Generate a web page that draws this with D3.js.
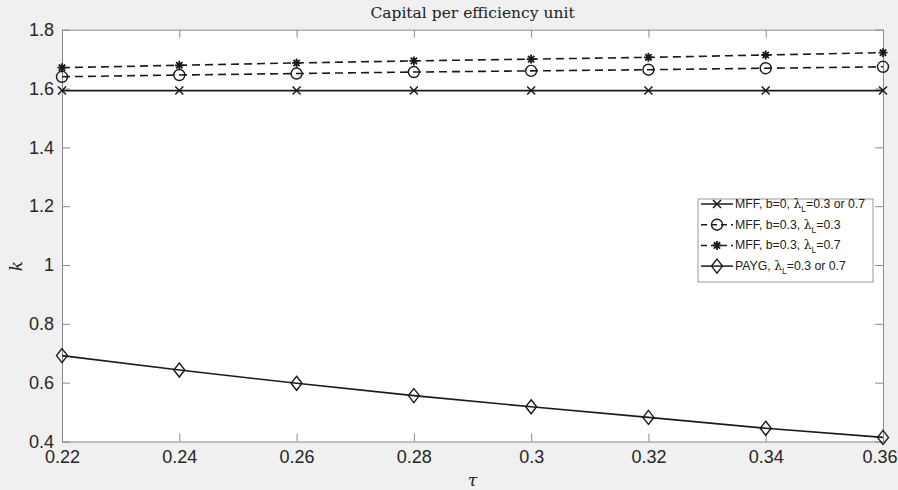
<!DOCTYPE html>
<html><head><meta charset="utf-8">
<script src="https://cdn.jsdelivr.net/npm/d3@7"></script>
<style>body{margin:0;background:#f0f0f0;}svg{display:block;}</style>
</head><body>
<svg id="c" width="898" height="490"></svg>
<script>
const tau = [0.22, 0.24, 0.26, 0.28, 0.30, 0.32, 0.34, 0.36];
const mffB0 = [1.593, 1.593, 1.593, 1.593, 1.593, 1.593, 1.593, 1.593];
const mffL03 = [1.640, 1.646, 1.651, 1.656, 1.660, 1.664, 1.669, 1.674];
const mffL07 = [1.671, 1.679, 1.687, 1.694, 1.700, 1.706, 1.714, 1.722];
const payg = [0.692, 0.643, 0.598, 0.556, 0.518, 0.482, 0.445, 0.414];
const xTicks = [0.22, 0.24, 0.26, 0.28, 0.30, 0.32, 0.34, 0.36];
const xTickLabels = ["0.22","0.24","0.26","0.28","0.3","0.32","0.34","0.36"];
const yTicks = [0.4, 0.6, 0.8, 1.0, 1.2, 1.4, 1.6, 1.8];
const yTickLabels = ["0.4","0.6","0.8","1","1.2","1.4","1.6","1.8"];
const seriesNames = ["MFF, b=0, ", "MFF, b=0.3, ", "MFF, b=0.3, ", "PAYG, "];
const seriesSuffix = ["=0.3 or 0.7", "=0.3", "=0.7", "=0.3 or 0.7"];

const L = 62, R = 883, T = 29.7, B = 441.5;
const svg = d3.select("#c");
const x = d3.scaleLinear().domain([0.22, 0.36]).range([L, R]);
const y = d3.scaleLinear().domain([0.4, 1.8]).range([B, T]);
const axisCol = "#8a8a8a", ink = "#1a1a1a";

svg.append("rect").attr("x", L).attr("y", T).attr("width", R - L).attr("height", B - T).attr("fill", "#fff");

const fmtX = (d, i) => xTickLabels[i];
const fmtY = (d, i) => yTickLabels[i];
function styleAxis(g) {
  g.select(".domain").attr("stroke", axisCol).attr("stroke-width", 1);
  g.selectAll(".tick line").attr("stroke", axisCol);
  g.selectAll(".tick text").attr("fill", "#262626").attr("font-family", "Liberation Sans, Arial, sans-serif").attr("font-size", 18);
}
const xAx = svg.append("g").attr("transform", `translate(0,${B})`)
  .call(d3.axisBottom(x).tickValues(xTicks).tickFormat(fmtX).tickSizeInner(-8).tickSizeOuter(0).tickPadding(9))
  .call(styleAxis);
// keep the last label inside the page edge
xAx.selectAll(".tick text").filter((d, i) => i === xTicks.length - 1).attr("text-anchor", "end").attr("dx", 14);
svg.append("g").attr("transform", `translate(0,${T})`)
  .call(d3.axisTop(x).tickValues(xTicks).tickFormat("").tickSizeInner(-8).tickSizeOuter(0))
  .call(styleAxis);
svg.append("g").attr("transform", `translate(${L},0)`)
  .call(d3.axisLeft(y).tickValues(yTicks).tickFormat(fmtY).tickSizeInner(-8).tickSizeOuter(0).tickPadding(8))
  .call(styleAxis);
svg.append("g").attr("transform", `translate(${R},0)`)
  .call(d3.axisRight(y).tickValues(yTicks).tickFormat("").tickSizeInner(-8).tickSizeOuter(0))
  .call(styleAxis);

svg.append("text").attr("x", (L + R) / 2).attr("y", 18).attr("text-anchor", "middle")
  .attr("font-family", "DejaVu Serif, Liberation Serif, serif").attr("font-size", 15.5).attr("fill", "#222")
  .text("Capital per efficiency unit");
svg.append("text").attr("transform", `translate(22,266) rotate(-90)`).attr("text-anchor", "middle")
  .attr("font-family", "DejaVu Serif, Liberation Serif, serif").attr("font-style", "italic").attr("font-size", 17).attr("fill", "#222")
  .text("k");
svg.append("text").attr("x", (L + R) / 2).attr("y", 486).attr("text-anchor", "middle")
  .attr("font-family", "DejaVu Serif, Liberation Serif, serif").attr("font-style", "italic").attr("font-size", 17).attr("fill", "#222")
  .text("τ");

function marker(g, type, cx, cy) {
  if (type === "x") {
    const s = 4;
    g.append("path").attr("d", `M${cx - s},${cy - s}L${cx + s},${cy + s}M${cx - s},${cy + s}L${cx + s},${cy - s}`)
      .attr("stroke", ink).attr("stroke-width", 1.5).attr("fill", "none");
  } else if (type === "o") {
    g.append("circle").attr("cx", cx).attr("cy", cy).attr("r", 5.5).attr("fill", "none").attr("stroke", ink).attr("stroke-width", 1.4);
  } else if (type === "*") {
    const s = 4.5;
    g.append("path").attr("d", `M${cx - s},${cy}L${cx + s},${cy}M${cx},${cy - s}L${cx},${cy + s}M${cx - s * .7},${cy - s * .7}L${cx + s * .7},${cy + s * .7}M${cx - s * .7},${cy + s * .7}L${cx + s * .7},${cy - s * .7}`)
      .attr("stroke", ink).attr("stroke-width", 1.8).attr("fill", "none");
  } else if (type === "d") {
    g.append("path").attr("d", `M${cx},${cy - 7}L${cx + 5.5},${cy}L${cx},${cy + 7}L${cx - 5.5},${cy}Z`)
      .attr("fill", "none").attr("stroke", ink).attr("stroke-width", 1.4);
  }
}

const series = [
  { vals: mffB0, dash: null, m: "x" },
  { vals: mffL03, dash: "8,5", m: "o" },
  { vals: mffL07, dash: "8,5", m: "*" },
  { vals: payg, dash: null, m: "d" }
];
const line = d3.line().x((d, i) => x(tau[i])).y(d => y(d));
const plot = svg.append("g");
series.forEach(s => {
  plot.append("path").attr("d", line(s.vals)).attr("fill", "none").attr("stroke", ink).attr("stroke-width", 1.6)
    .attr("stroke-dasharray", s.dash);
  s.vals.forEach((v, i) => marker(plot, s.m, x(tau[i]), y(v)));
});

const lg = svg.append("g");
lg.append("rect").attr("x", 698).attr("y", 199).attr("width", 175).attr("height", 83)
  .attr("fill", "#fff").attr("stroke", "#999").attr("stroke-width", 1);
series.forEach((s, i) => {
  const ly = 204 + i * 20.7;
  lg.append("line").attr("x1", 701).attr("x2", 733).attr("y1", ly).attr("y2", ly)
    .attr("stroke", ink).attr("stroke-width", 1.5).attr("stroke-dasharray", s.dash ? "6,4" : null);
  marker(lg, s.m, 717, ly);
  const t = lg.append("text").attr("x", 735).attr("y", ly + 4).attr("font-family", "Liberation Sans, Arial, sans-serif")
    .attr("font-size", 12.3).attr("fill", "#222");
  t.append("tspan").text(seriesNames[i]);
  t.append("tspan").attr("font-family", "DejaVu Serif, serif").text("λ");
  t.append("tspan").attr("font-size", 8.5).attr("dy", 4).text("L");
  t.append("tspan").attr("dy", -4).text(seriesSuffix[i]);
});
</script>
</body></html>
